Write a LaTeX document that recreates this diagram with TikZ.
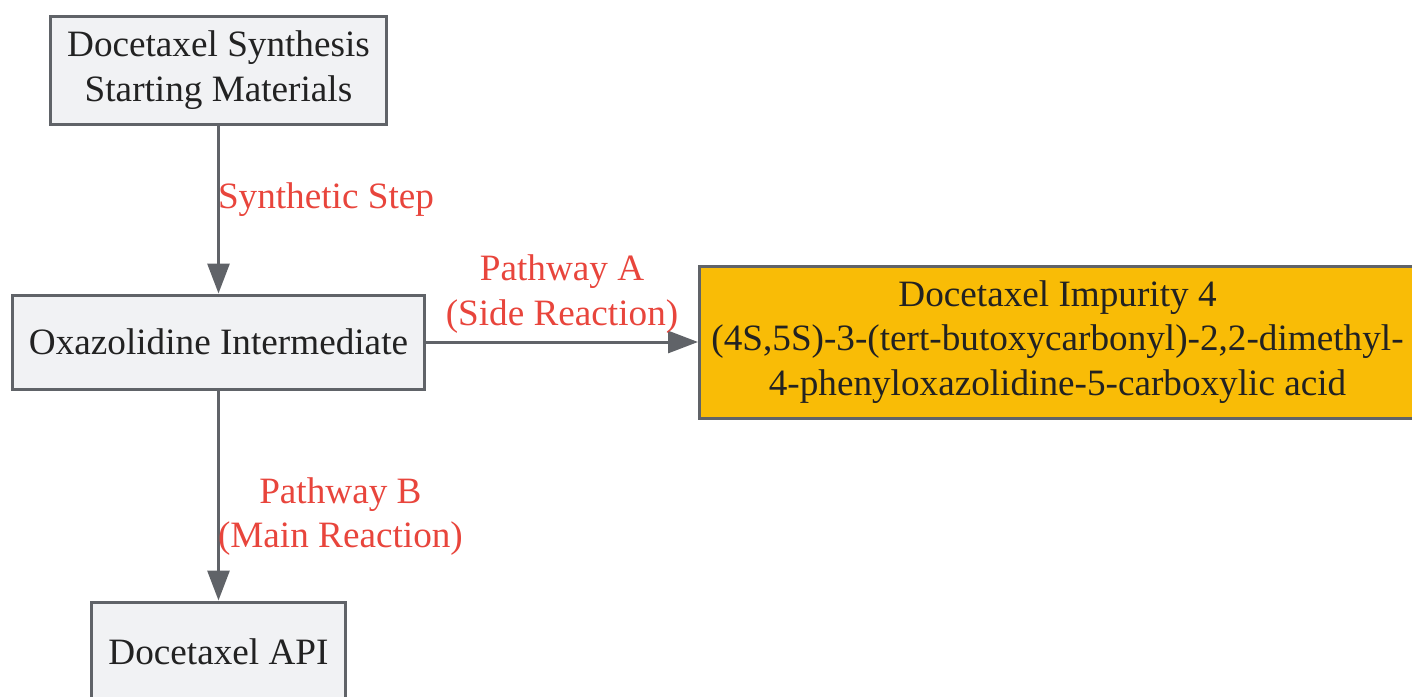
\documentclass[tikz,border=0pt]{standalone}
\usepackage{fontspec}
\setmainfont{Liberation Serif}
\usetikzlibrary{positioning, arrows.meta}

\definecolor{boxfill}{HTML}{F1F2F4}
\definecolor{boxline}{HTML}{606368}
\definecolor{impfill}{HTML}{F9BC06}
\definecolor{labred}{HTML}{E8453C}
\definecolor{txt}{HTML}{222222}

\begin{document}
\begin{tikzpicture}[x=0.5pt, y=-0.5pt,
    every node/.style={font=\fontsize{18.6}{22.2}\selectfont},
    stage/.style={draw=boxline, line width=1.5pt, fill=boxfill,
        text=txt, align=center, inner sep=0pt},
    impurity/.style={stage, fill=impfill},
    flow/.style={draw=boxline, line width=1.5pt,
        -{Triangle[length=15pt, width=11pt]}},
    note/.style={text=labred, align=center, inner sep=0pt}]
\useasboundingbox (0,0) rectangle (1412,696);

\node[stage, minimum width=168pt, minimum height=54pt] (start) at (218.5,70)
    {Docetaxel Synthesis\\Starting Materials};
\node[stage, minimum width=206pt, minimum height=47pt, below=84pt of start] (oxa)
    {Oxazolidine Intermediate};
\node[impurity, minimum width=358pt, minimum height=76pt, right=136pt of oxa] (imp)
    {Docetaxel Impurity 4\\(4S,5S)-3-(tert-butoxycarbonyl)-2,2-dimethyl-\\4-phenyloxazolidine-5-carboxylic acid};
\node[stage, minimum width=127pt, minimum height=50pt, below=105pt of oxa] (api)
    {Docetaxel API};

\draw
    (start) edge[flow] node[note, pos=0.44, anchor=west, xshift=-1pt] {Synthetic Step} (oxa)
    (oxa) edge[flow] node[note, midway, yshift=24pt] {Pathway A\\(Side Reaction)} (imp)
    (oxa) edge[flow] node[note, pos=0.6, anchor=west, xshift=-1pt] {Pathway B\\(Main Reaction)} (api);
\end{tikzpicture}
\end{document}
